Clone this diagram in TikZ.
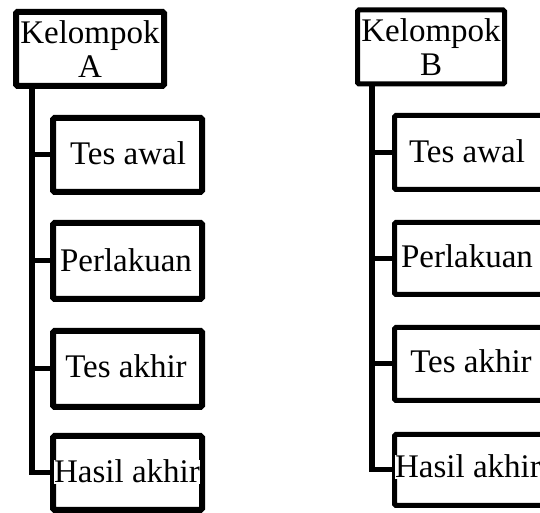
\documentclass[tikz,border=0pt]{standalone}
\usepackage{fontspec}
\setmainfont{Liberation Serif}
\begin{document}
\begin{tikzpicture}[x=1pt,y=1pt,
  headA/.style={draw, line width=6pt, rounded corners=1.5pt, fill=white, align=center,
    minimum width=148pt, minimum height=74pt, inner sep=0pt, font=\fontsize{33}{34}\selectfont},
  headB/.style={headA, line width=5pt, minimum width=147pt, minimum height=74pt},
  boxA/.style={draw, line width=6pt, rounded corners=1.5pt, minimum width=149pt, inner sep=0pt},
  boxB/.style={draw, line width=5pt, rounded corners=1.5pt, minimum width=205.5pt, inner sep=0pt},
  lbl/.style={anchor=base, fill=white, inner sep=0.5pt, font=\fontsize{33}{34}\selectfont},
  trunk/.style={line width=6pt},
  tick/.style={line width=5pt}]
\clip (0,0) rectangle (540,513);

% Group A
\node[headA] (ka) at (90,464) {Kelompok\\A};
\node[boxA, minimum height=74pt] (a1) at (127.5,358) {};
\node[boxA, minimum height=76pt] (a2) at (127.5,252) {};
\node[boxA, minimum height=76pt] (a3) at (127.5,144) {};
\node[boxA, minimum height=74pt] (a4) at (127.5,40) {};
\coordinate (tA) at (32,0);
\draw[trunk] (ka.south -| tA) -- (a4.west -| tA);
\draw[tick] (a1.west -| tA) -- (a1.west);
\draw[tick] (a2.west -| tA) -- (a2.west);
\draw[tick] (a3.west -| tA) -- (a3.west);
\draw[tick] ([xshift=-3pt]a4.west -| tA) -- (a4.west);
\node[lbl] (la1) at (128,348) {Tes awal};
\node[lbl] (la2) at (126,241) {Perlakuan};
\node[lbl] (la3) at (126,135) {Tes akhir};
\node[lbl] (la4) at (127,30) {Hasil akhir};

% Group B
\node[headB] (kb) at (431,466) {Kelompok\\B};
\node[boxB, minimum height=74pt] (b1) at (497.25,360.5) {};
\node[boxB, minimum height=72pt] (b2) at (497.25,254.5) {};
\node[boxB, minimum height=73pt] (b3) at (497.25,149) {};
\node[boxB, minimum height=71pt] (b4) at (497.25,43) {};
\coordinate (tB) at (372,0);
\draw[trunk] (kb.south -| tB) -- (b4.west -| tB);
\draw[tick] (b1.west -| tB) -- (b1.west);
\draw[tick] (b2.west -| tB) -- (b2.west);
\draw[tick] (b3.west -| tB) -- (b3.west);
\draw[tick] ([xshift=-3pt]b4.west -| tB) -- (b4.west);
\node[lbl] (lb1) at (467,350) {Tes awal};
\node[lbl] (lb2) at (467,245) {Perlakuan};
\node[lbl] (lb3) at (471,140) {Tes akhir};
\node[lbl] (lb4) at (468,35) {Hasil akhir};
\end{tikzpicture}
\end{document}
